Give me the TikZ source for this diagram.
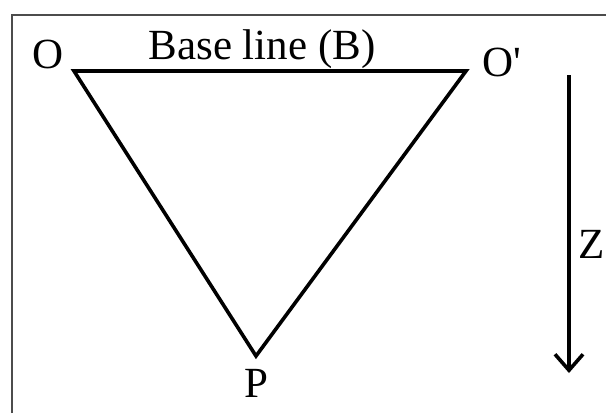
\documentclass[tikz,border=0pt]{standalone}
\usepackage{fontspec}
\setmainfont{Liberation Serif}
\usetikzlibrary{arrows.meta, positioning}

\begin{document}
\begin{tikzpicture}[
    x=1pt, y=-1pt,
    lbl/.style={font=\fontsize{43}{50}\selectfont, inner sep=0pt},
    side/.style={line width=3.6pt, line join=miter},
]
\useasboundingbox (0,0) rectangle (606,413);
% frame
\draw[gray!60!black, line width=1.2pt] (12,413) -- (12,15) -- (606,15);
% triangle
\coordinate (O) at (74,71);
\coordinate (Op) at (466,71);
\coordinate (P) at (256,356);
\draw[side] (O) -- (Op) -- (P) -- cycle;
% labels
\node[lbl, anchor=base] (lO) at (48,68) {O};
\node[lbl, anchor=base] (lB) at (262,59) {Base line (B)};
\node[lbl, anchor=base west] (lOp) at (482,76) {O\textquotesingle};
\node[lbl, anchor=base] (lP) at (256,397) {P};
% depth arrow
\coordinate (zs) at (569,75);
\coordinate (ze) at (569,373);
\draw[line width=3.6pt, -{Straight Barb[length=16pt, width=28pt]}] (zs) -- (ze);
\node[lbl, anchor=base east] (lZ) at (605,258) {Z};
\end{tikzpicture}
\end{document}
